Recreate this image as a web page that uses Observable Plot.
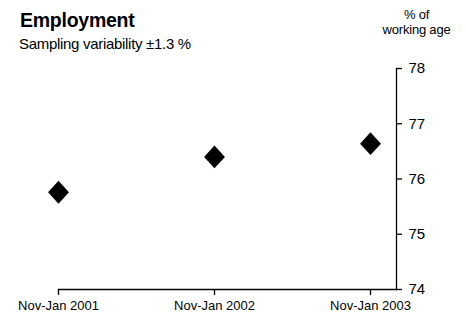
<!DOCTYPE html>
<html>
<head>
<meta charset="utf-8">
<script src="https://cdn.jsdelivr.net/npm/d3@7"></script>
<script src="https://cdn.jsdelivr.net/npm/@observablehq/plot@0.6"></script>
<style>
  html, body { margin: 0; padding: 0; background: #fff; }
  #wrap { width: 466px; font-family: "Liberation Sans", Arial, sans-serif; color: #000; }
  #head { position: relative; width: 466px; height: 55px; }
  #head div { position: absolute; white-space: nowrap; line-height: 1; }
  #title { left: 20px; top: 11px; font-size: 19.5px; font-weight: bold; letter-spacing: -0.25px; }
  #subtitle { left: 19px; top: 36px; font-size: 15px; letter-spacing: -0.3px; }
  #unit { left: 366px; width: 101px; text-align: center; top: 7px; font-size: 13px; letter-spacing: -0.2px; line-height: 15px !important; }
  #chart svg { display: block; }
</style>
</head>
<body>
<div id="wrap">
  <div id="head">
    <div id="title">Employment</div>
    <div id="subtitle">Sampling variability ±1.3 %</div>
    <div id="unit">% of<br>working age</div>
  </div>
  <div id="chart"></div>
</div>
<script>
const periods = ["Nov-Jan 2001", "Nov-Jan 2002", "Nov-Jan 2003"];
const employment = [75.76, 76.40, 76.64];
const yTicks = [74, 75, 76, 77, 78];

const data = periods.map((p, i) => ({period: p, value: employment[i]}));

const diamond = {
  draw(ctx, size) {
    const r = Math.sqrt(size / Math.PI);
    const w = r * 0.95, h = r * 1.04;
    ctx.moveTo(0, -h);
    ctx.lineTo(w, 0);
    ctx.lineTo(0, h);
    ctx.lineTo(-w, 0);
    ctx.closePath();
  }
};

const chart = Plot.plot({
  width: 466,
  height: 261,
  marginTop: 13,
  marginBottom: 27,
  marginLeft: 58,
  marginRight: 70,
  style: {fontFamily: "Liberation Sans, Arial, sans-serif", color: "#000", background: "#fff"},
  x: {type: "point", domain: periods, padding: 0.0833, align: 0},
  y: {domain: [74, 78]},
  marks: [
    Plot.frame({anchor: "bottom", stroke: "#000", strokeWidth: 1.3}),
    Plot.frame({anchor: "right", stroke: "#000", strokeWidth: 1.3}),
    Plot.axisX({tickSize: 6, tickPadding: 5, fontSize: 13, label: null, stroke: "#000", strokeWidth: 1.3}),
    Plot.axisY({anchor: "right", ticks: yTicks, tickFormat: d3.format("d"), tickSize: 5, tickPadding: 7, fontSize: 15, label: null, stroke: "#000", strokeWidth: 1.3}),
    Plot.dot(data, {x: "period", y: "value", symbol: diamond, r: 11, fill: "#000", stroke: "none"})
  ]
});
document.getElementById("chart").appendChild(chart);
</script>
</body>
</html>
